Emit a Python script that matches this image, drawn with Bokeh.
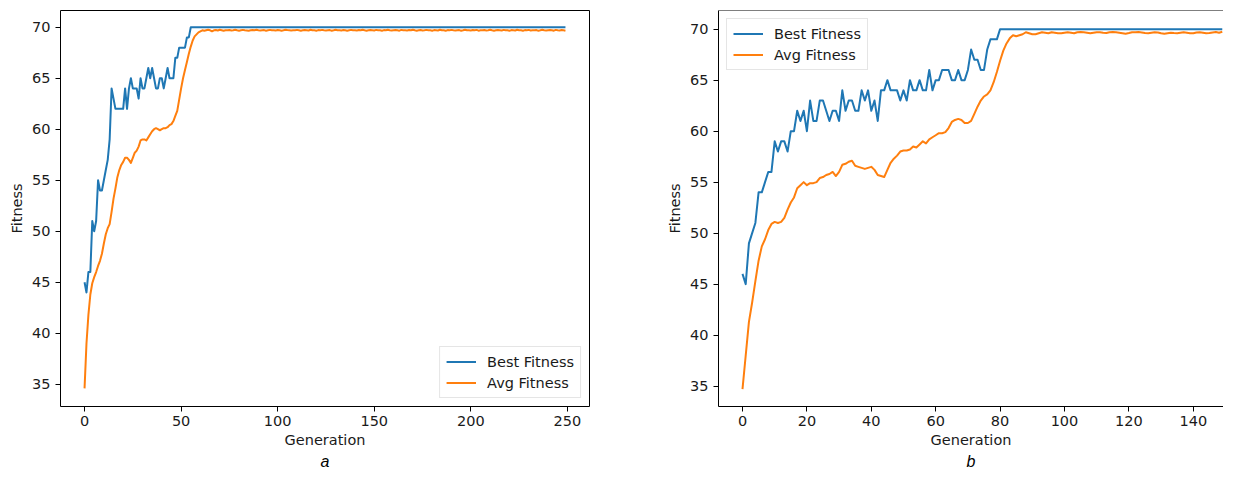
from bokeh.plotting import figure
from bokeh.models import Legend, LegendItem, Span, FixedTicker, Range1d, Title
from bokeh.layouts import row
from bokeh.embed import file_html
from bokeh.resources import INLINE

# ---------------- data ----------------
# run a: 250 generations
best_a = [45, 44, 46, 46, 51, 50, 51, 55, 54, 54, 55, 56, 57, 59, 64, 63, 62, 62, 62, 62,
          62, 64, 62, 64, 65, 64, 64, 64, 63, 65, 64, 64, 65, 66, 65, 66, 65, 64, 64, 65,
          65, 64, 65, 66, 65, 65, 65, 67, 67, 68, 68, 68, 68, 69, 69] + [70] * 195

avg_a = [34.6, 39.0, 41.8, 43.8, 44.9, 45.5, 46.0, 46.6, 47.1, 47.8,
         48.8, 49.7, 50.3, 50.7, 51.9, 53.2, 54.2, 55.3, 56.0, 56.5,
         56.8, 57.2, 57.2, 57.0, 56.7, 57.2, 57.7, 57.9, 58.3, 58.9,
         59.0, 59.0, 58.9, 59.2, 59.5, 59.8, 60.0, 60.1, 60.0, 59.9,
         60.0, 60.1, 60.1, 60.2, 60.4, 60.5, 60.8, 61.3, 61.8, 62.9,
         64.0, 65.0, 65.8, 66.6, 67.4, 68.1, 68.7, 69.1, 69.3, 69.5, 69.6,
         69.7, 69.65, 69.7, 69.75, 69.7, 69.6, 69.7, 69.72, 69.68, 69.75, 69.7, 69.65, 69.7, 69.7, 69.72, 69.68, 69.7, 69.75, 69.7, 69.66,
         69.7, 69.74, 69.7, 69.68, 69.65, 69.7, 69.72, 69.7, 69.75, 69.7, 69.68, 69.7, 69.72, 69.66, 69.7, 69.74, 69.7, 69.7, 69.68, 69.72,
         69.7, 69.66, 69.7, 69.75, 69.72, 69.7, 69.68, 69.7, 69.7, 69.74, 69.7, 69.66, 69.7, 69.72, 69.7, 69.68, 69.75, 69.7, 69.7, 69.66,
         69.72, 69.7, 69.74, 69.7, 69.68, 69.7, 69.72, 69.66, 69.7, 69.75, 69.7, 69.7, 69.68, 69.72, 69.7, 69.65, 69.7, 69.74, 69.7, 69.7,
         69.68, 69.72, 69.7, 69.75, 69.7, 69.66, 69.7, 69.72, 69.7, 69.68, 69.74, 69.7, 69.7, 69.66, 69.72, 69.7, 69.75, 69.7, 69.68, 69.7,
         69.72, 69.7, 69.66, 69.74, 69.7, 69.7, 69.68, 69.72, 69.7, 69.75, 69.7, 69.66, 69.7, 69.72, 69.68, 69.7, 69.74, 69.7, 69.7, 69.66,
         69.72, 69.7, 69.68, 69.75, 69.7, 69.7, 69.66, 69.72, 69.7, 69.74, 69.7, 69.68, 69.7, 69.72, 69.66, 69.7, 69.75, 69.7, 69.7, 69.68,
         69.72, 69.7, 69.74, 69.66, 69.7, 69.7, 69.72, 69.68, 69.7, 69.75, 69.7, 69.66, 69.7, 69.72, 69.7, 69.68, 69.74, 69.7, 69.7, 69.66,
         69.72, 69.7, 69.68, 69.75, 69.7, 69.7, 69.66, 69.72, 69.7, 69.74, 69.68, 69.7, 69.7, 69.72, 69.66, 69.7, 69.75, 69.7, 69.68, 69.7,
         69.72, 69.7, 69.66, 69.74, 69.7, 69.68, 69.72, 69.7, 69.66]

# run b: 150 generations
best_b = [46, 45, 49, 50, 51, 54, 54, 55, 56, 56, 59, 58, 59, 59, 58, 60, 60, 62, 61, 62,
          60, 63, 61, 61, 63, 63, 62, 61, 62, 62, 61, 64, 62, 63, 63, 62, 62, 64, 63, 64,
          62, 63, 61, 64, 64, 65, 64, 64, 64, 63, 64, 63, 65, 64, 64, 65, 64, 64, 66, 64,
          65, 65, 66, 66, 66, 65, 65, 66, 65, 65, 66, 68, 67, 67, 66, 66, 68, 69, 69, 69] + [70] * 70

avg_b = [34.7, 38.0, 41.3, 43.2, 45.3, 47.3, 48.7, 49.4, 50.3, 50.9,
         51.1, 51.0, 51.1, 51.5, 52.3, 53.0, 53.5, 54.4, 54.7, 55.0,
         54.7, 54.9, 54.9, 55.0, 55.4, 55.5, 55.7, 55.8, 56.0, 55.6,
         56.0, 56.7, 56.8, 57.0, 57.1, 56.6, 56.5, 56.4, 56.3, 56.4,
         56.5, 56.2, 55.7, 55.6, 55.5, 56.2, 56.9, 57.3, 57.6, 58.0,
         58.1, 58.1, 58.2, 58.5, 58.4, 58.7, 59.0, 58.8, 59.2, 59.4,
         59.6, 59.8, 59.8, 59.9, 60.3, 60.9, 61.1, 61.2, 61.1, 60.8,
         60.8, 61.0, 61.7, 62.4, 63.0, 63.4, 63.6, 64.0, 64.8, 65.8,
         66.9, 67.9, 68.6, 69.1, 69.4, 69.3, 69.4, 69.5, 69.7, 69.6,
         69.5, 69.5, 69.6, 69.7,
         69.65, 69.6, 69.7, 69.65, 69.6, 69.6, 69.65, 69.7, 69.65, 69.6, 69.7, 69.72, 69.7, 69.65, 69.6, 69.65, 69.7, 69.7, 69.65, 69.62,
         69.7, 69.72, 69.7, 69.65, 69.6, 69.55, 69.62, 69.7, 69.7, 69.72, 69.68, 69.62, 69.6, 69.65, 69.7, 69.68, 69.6, 69.55, 69.6, 69.65,
         69.62, 69.6, 69.65, 69.7, 69.65, 69.6, 69.6, 69.68, 69.7, 69.65, 69.6, 69.62, 69.68, 69.72, 69.65, 69.75]

y_ticks = [35, 40, 45, 50, 55, 60, 65, 70]
x_ticks_a = [0, 50, 100, 150, 200, 250]
x_ticks_b = [0, 20, 40, 60, 80, 100, 120, 140]
series_labels = ["Best Fitness", "Avg Fitness"]
panel_labels = ["a", "b"]

BLUE = "#1f77b4"
ORANGE = "#ff7f0e"
FONT = "DejaVu Sans"
FS = "14.5px"
TXT = "#1a1a1a"


def make(best, avg, xr, yr, xticks, frame_w, frame_h, bl, br, bt,
         legend_loc, outline, panel, panel_offset):
    p = figure(frame_width=frame_w, frame_height=frame_h,
               x_range=Range1d(*xr), y_range=Range1d(*yr),
               output_backend="svg", toolbar_location=None,
               min_border_left=bl, min_border_right=br,
               min_border_top=bt, min_border_bottom=0,
               background_fill_color="white", border_fill_color="white")
    p.grid.visible = False
    if outline:
        p.outline_line_color = "black"
        p.outline_line_width = 1
        axis_line = None
    else:
        p.outline_line_color = None
        axis_line = "black"
    p.xaxis.ticker = FixedTicker(ticks=xticks)
    p.yaxis.ticker = FixedTicker(ticks=y_ticks)
    for ax in (p.xaxis[0], p.yaxis[0]):
        ax.axis_line_color = axis_line
        ax.axis_line_width = 1
        ax.major_tick_in = 0
        ax.major_tick_out = 5
        ax.major_tick_line_color = "black"
        ax.minor_tick_line_color = None
        ax.major_label_text_font = FONT
        ax.major_label_text_font_size = FS
        ax.major_label_text_color = TXT
        ax.axis_label_text_font = FONT
        ax.axis_label_text_font_size = FS
        ax.axis_label_text_font_style = "normal"
        ax.axis_label_text_color = TXT
    p.xaxis.axis_label = "Generation"
    p.yaxis.axis_label = "Fitness"
    p.xaxis.major_label_standoff = 4
    p.xaxis.axis_label_standoff = 3
    p.yaxis.major_label_standoff = 5
    p.yaxis.axis_label_standoff = 4

    r1 = p.line(list(range(len(best))), best, line_color=BLUE, line_width=2, line_join="round")
    r2 = p.line(list(range(len(avg))), avg, line_color=ORANGE, line_width=2, line_join="round")

    leg = Legend(items=[LegendItem(label=series_labels[0], renderers=[r1]),
                        LegendItem(label=series_labels[1], renderers=[r2])],
                 location=legend_loc, margin=8, padding=6, spacing=4,
                 glyph_width=30, glyph_height=17, label_height=17, label_standoff=11,
                 label_text_font=FONT, label_text_font_size=FS, label_text_color=TXT,
                 border_line_color="#cccccc", border_line_width=1,
                 background_fill_alpha=0.8)
    p.add_layout(leg, "center")

    if not outline:
        p.add_layout(Span(location=yr[1], dimension="width", line_color="black", line_width=1))

    p.add_layout(Title(text=panel, align="center", offset=panel_offset, standoff=0,
                       text_font="Liberation Sans", text_font_style="italic",
                       text_font_size="16px", text_color="black"), "below")
    return p


# whole layout must fit in 1223 x 475
pa = make(best_a, avg_a, (-12.45, 261.45), (32.82, 71.64), x_ticks_a,
          529, 396, 60, 41, 10, "bottom_right", True, panel_labels[0], -23)
pb = make(best_b, avg_b, (-7.45, 149.38), (33.0, 71.83), x_ticks_b,
          505, 396, 88, 0, 8, "top_left", False, panel_labels[1], -8.5)

layout = row(pa, pb, spacing=0)
open("out.html", "w").write(file_html(layout, INLINE))
